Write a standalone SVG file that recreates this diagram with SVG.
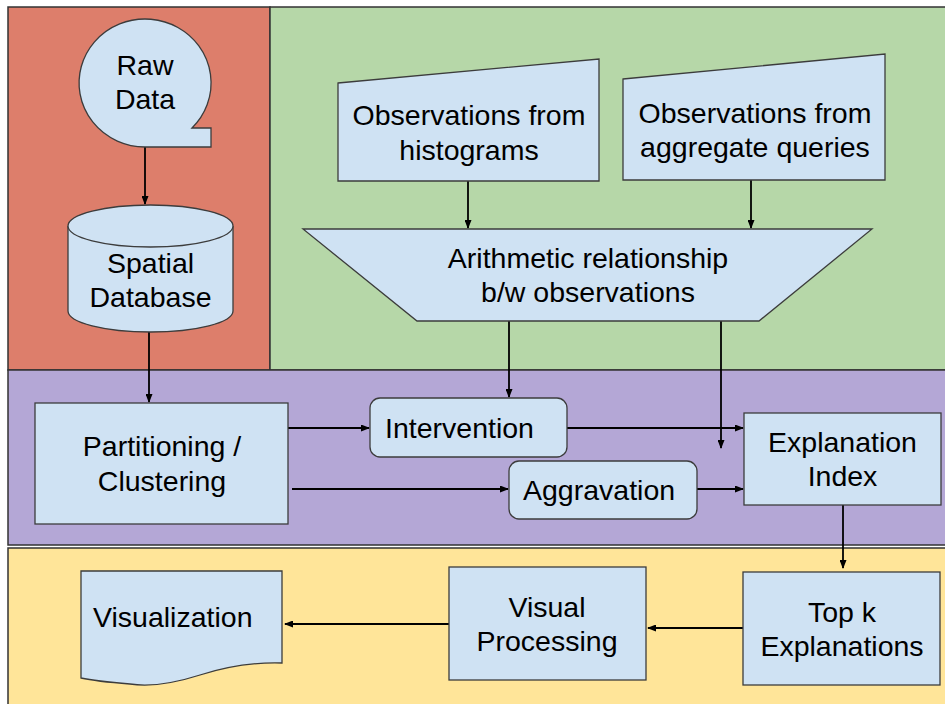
<svg xmlns="http://www.w3.org/2000/svg" width="945" height="704" viewBox="0 0 945 704">
<defs>
<marker id="ah" markerUnits="userSpaceOnUse" markerWidth="9" markerHeight="7" refX="8" refY="3.5" orient="auto">
<path d="M0,0 L9,3.5 L0,7 z" fill="#000"/>
</marker>
</defs>
<style>
.bg{stroke:#333;stroke-width:1.5}
.n{fill:#cfe2f3;stroke:#3c3c3c;stroke-width:1.3}
.t{font-family:"Liberation Sans",Arial,sans-serif;font-size:28.5px;fill:#000;text-anchor:middle}
.s{text-anchor:start}
.c{fill:none;stroke:#000;stroke-width:1.8;marker-end:url(#ah)}
</style>
<rect width="945" height="704" fill="#fff"/>
<g id="lanes">
<rect class="bg" x="8" y="7" width="262" height="363" fill="#dd7e6b"/>
<rect class="bg" x="270" y="7" width="680" height="363" fill="#b6d7a8"/>
<rect class="bg" x="8" y="370" width="942" height="175" fill="#b4a7d6"/>
<rect class="bg" x="8" y="548" width="942" height="160" fill="#ffe599"/>
</g>
<g id="connectors">
<line class="c" x1="145" y1="147" x2="145" y2="204"/>
<line class="c" x1="149" y1="332" x2="149" y2="402"/>
<line class="c" x1="468" y1="181" x2="468" y2="228"/>
<line class="c" x1="751" y1="180" x2="751" y2="228"/>
<line class="c" x1="509" y1="321" x2="509" y2="397"/>
<line class="c" x1="721" y1="321" x2="721" y2="448"/>
<line class="c" x1="288" y1="428" x2="369" y2="428"/>
<line class="c" x1="292" y1="489" x2="508" y2="489"/>
<line class="c" x1="567" y1="428" x2="743" y2="428"/>
<line class="c" x1="697" y1="489" x2="743" y2="489"/>
<line class="c" x1="843" y1="505" x2="843" y2="568"/>
<line class="c" x1="743" y1="628" x2="648" y2="628"/>
<line class="c" x1="449" y1="624" x2="285" y2="624"/>
</g>
<g id="raw-data">
<path class="n" d="M145,147 A66,64 0 1,1 192,128 L211,128 L211,147 Z"/>
<text class="t" x="145" y="75">Raw</text>
<text class="t" x="145" y="109">Data</text>
</g>
<g id="spatial-database">
<path class="n" d="M68,226 L68,311 A82.5,21 0 0,0 233,311 L233,226"/>
<ellipse class="n" cx="150.5" cy="226" rx="82.5" ry="21"/>
<text class="t" x="150.5" y="273">Spatial</text>
<text class="t" x="150.5" y="307">Database</text>
</g>
<g id="obs-histograms">
<polygon class="n" points="338,83 599,59 599,181 338,181"/>
<text class="t" x="469" y="125">Observations from</text>
<text class="t" x="469" y="160">histograms</text>
</g>
<g id="obs-aggregate">
<polygon class="n" points="623,79 885,54 885,180 623,180"/>
<text class="t" x="755" y="123">Observations from</text>
<text class="t" x="755" y="157">aggregate queries</text>
</g>
<g id="arithmetic">
<polygon class="n" points="303,229 872,229 759,321 417,321"/>
<text class="t" x="588" y="268">Arithmetic relationship</text>
<text class="t" x="588" y="302">b/w observations</text>
</g>
<g id="partitioning">
<rect class="n" x="35" y="403" width="253" height="121"/>
<text class="t" x="162" y="456">Partitioning /</text>
<text class="t" x="162" y="491">Clustering</text>
</g>
<g id="intervention">
<rect class="n" x="370" y="398" width="197" height="59" rx="10"/>
<text class="t s" x="385" y="438">Intervention</text>
</g>
<g id="aggravation">
<rect class="n" x="509" y="461" width="188" height="58" rx="10"/>
<text class="t s" x="523" y="500">Aggravation</text>
</g>
<g id="explanation-index">
<rect class="n" x="744" y="413" width="197" height="92"/>
<text class="t" x="842.5" y="452">Explanation</text>
<text class="t" x="842.5" y="486">Index</text>
</g>
<g id="top-k">
<rect class="n" x="743" y="572" width="197" height="113"/>
<text class="t" x="842" y="622">Top k</text>
<text class="t" x="842" y="656">Explanations</text>
</g>
<g id="visual-processing">
<rect class="n" x="449" y="567" width="197" height="113"/>
<text class="t" x="547" y="617">Visual</text>
<text class="t" x="547" y="651">Processing</text>
</g>
<g id="visualization">
<path class="n" d="M81,571 L282,571 L282,663 C250,662 225,667 200,675 C175,683 150,687 130,684 C105,682 90,680 81,678 Z"/>
<text class="t s" x="93" y="627">Visualization</text>
</g>
</svg>
